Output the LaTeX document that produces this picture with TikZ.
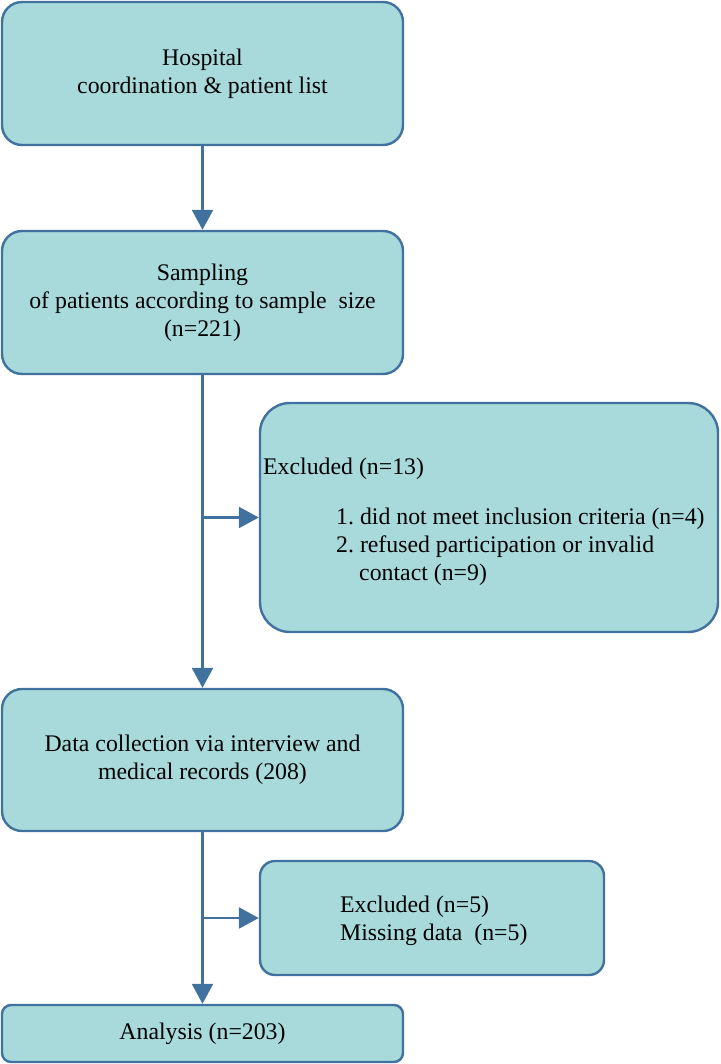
\documentclass[tikz,border=0pt]{standalone}
\usepackage{fontspec}
\setmainfont{Liberation Serif}
\usetikzlibrary{arrows.meta}
\definecolor{boxfill}{HTML}{A8DADC}
\definecolor{boxline}{HTML}{41729F}
\begin{document}
\begin{tikzpicture}[x=1pt,y=-1pt,
  box/.style={draw=boxline, fill=boxfill, line width=2.4pt, inner sep=0pt,
    font=\fontsize{23.8}{28}\selectfont, align=center},
  txt/.style={font=\fontsize{23.8}{28}\selectfont, inner sep=0pt, align=left, anchor=base west},
  arr/.style={draw=boxline, line width=2.4pt, -{Triangle[width=21pt,length=20pt]}}]
\useasboundingbox (0,0) rectangle (720,1064);
\node[box, rounded corners=20pt, minimum width=401pt, minimum height=143pt] (b1) at (202.5,73.5)
  {Hospital\\coordination \& patient list};
\node[box, rounded corners=20pt, minimum width=401pt, minimum height=143pt] (b2) at (202.5,302.5)
  {Sampling\\of patients according to sample\ \ size\\(n=221)};
\node[box, rounded corners=30pt, minimum width=458pt, minimum height=229pt] (b3) at (489,517.5) {};
\node[txt] (t3a) at (263,474) {Excluded (n=13)};
\node[txt] (t3b) at (336,524) {1.\ did not meet inclusion criteria (n=4)};
\node[txt] (t3c) at (336,552) {2.\ refused participation or invalid};
\node[txt] (t3d) at (359,580) {contact (n=9)};
\node[box, rounded corners=20pt, minimum width=401pt, minimum height=142pt] (b4) at (202.5,760)
  {Data collection via interview and\\medical records (208)};
\node[box, rounded corners=15pt, minimum width=344pt, minimum height=114pt] (b5) at (432,918) {};
\node[txt] (t5a) at (340,912) {Excluded (n=5)};
\node[txt] (t5b) at (340,940) {Missing data\ \ (n=5)};
\node[box, rounded corners=9pt, minimum width=401pt, minimum height=57pt] (b6) at (202.5,1033.5)
  {Analysis (n=203)};
\coordinate (j1) at (202.5,517.5);
\coordinate (j2) at (202.5,918);
\draw[arr] (b1.south) -- (b2.north);
\draw[arr] (b2.south) -- (b4.north);
\draw[arr] (j1) -- (b3.west);
\draw[arr] (b4.south) -- (b6.north);
\draw[arr] (j2) -- (b5.west);
\end{tikzpicture}
\end{document}
